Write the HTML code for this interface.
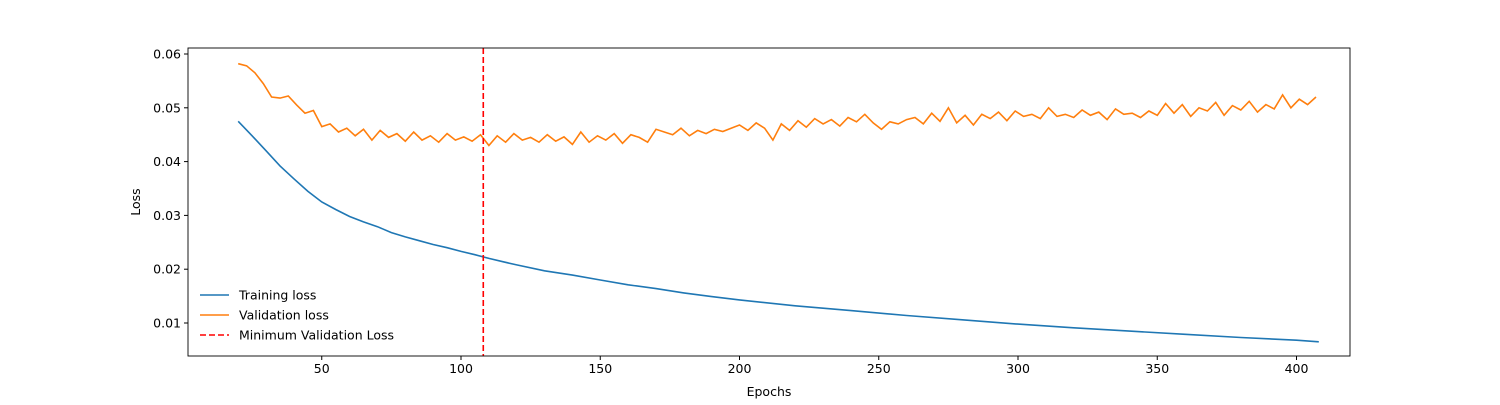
<!DOCTYPE html>
<html><head><meta charset="utf-8"><style>
body{margin:0;background:#fff;}
svg text{font-family:"DejaVu Sans","Liberation Sans",sans-serif;font-size:12.5px;fill:#000;}
</style></head><body>
<svg id="chart" width="1500" height="400" xmlns="http://www.w3.org/2000/svg">
<g id="plot"></g>
</svg>
<script>
const trainEpochs=[20,25,30,35,40,45,50,55,60,65,70,75,80,85,90,95,100,105,110,115,120,130,140,150,160,170,180,190,200,220,240,260,280,300,320,340,360,380,400,408];
const trainLoss=[0.0475,0.0448,0.0420,0.0392,0.0368,0.0345,0.0325,0.0311,0.0298,0.0288,0.0279,0.0268,0.0260,0.0253,0.0246,0.0240,0.0233,0.0227,0.0220,0.0214,0.0208,0.0197,0.0189,0.0180,0.0171,0.0164,0.0156,0.0149,0.0143,0.0132,0.0123,0.0114,0.0106,0.0098,0.0091,0.0085,0.0079,0.0073,0.0068,0.0065];
const valStart=20, valStep=3;
const valLoss=[0.0582,0.0578,0.0565,0.0545,0.0520,0.0518,0.0522,0.0505,0.0490,0.0495,
0.0465,0.0470,0.0455,0.0462,0.0448,0.0460,0.0440,0.0458,0.0445,0.0452,
0.0438,0.0455,0.0440,0.0448,0.0436,0.0452,0.0440,0.0446,0.0438,0.0450,
0.0430,0.0448,0.0436,0.0452,0.0440,0.0445,0.0436,0.0450,0.0438,0.0446,
0.0432,0.0455,0.0436,0.0448,0.0440,0.0452,0.0434,0.0450,0.0445,0.0436,
0.0460,0.0455,0.0450,0.0462,0.0448,0.0458,0.0452,0.0460,0.0456,0.0462,
0.0468,0.0458,0.0472,0.0462,0.0440,0.0470,0.0458,0.0476,0.0464,0.0480,
0.0470,0.0478,0.0466,0.0482,0.0474,0.0488,0.0472,0.0460,0.0474,0.0470,
0.0478,0.0482,0.0470,0.0490,0.0475,0.0500,0.0472,0.0486,0.0468,0.0488,
0.0480,0.0492,0.0476,0.0494,0.0484,0.0488,0.0480,0.0500,0.0484,0.0488,
0.0482,0.0496,0.0486,0.0492,0.0478,0.0498,0.0488,0.0490,0.0482,0.0494,
0.0486,0.0508,0.0490,0.0506,0.0484,0.0500,0.0494,0.0510,0.0486,0.0504,
0.0496,0.0512,0.0492,0.0506,0.0498,0.0524,0.0500,0.0516,0.0506,0.0520];
const minEpoch=108;
const xTicks=[50,100,150,200,250,300,350,400];
const yTicks=[0.01,0.02,0.03,0.04,0.05,0.06];

const L=188,R=1350,T=48,B=356;
const x=v=>182.5+v*2.785;
const y=v=>376.8-v*5380;
const NS="http://www.w3.org/2000/svg";
const g=document.getElementById('plot');
function mk(tag,attrs,parent){const e=document.createElementNS(NS,tag);for(const k in attrs)e.setAttribute(k,attrs[k]);(parent||g).appendChild(e);return e;}

const tp=trainEpochs.map((e,i)=>x(e).toFixed(1)+','+y(trainLoss[i]).toFixed(1)).join(' ');
const tl=mk('polyline',{points:tp,fill:'none',stroke:'#1f77b4','stroke-width':1.6});


const vp=valLoss.map((v,i)=>x(valStart+i*valStep).toFixed(1)+','+y(v).toFixed(1)).join(' ');
const vl=mk('polyline',{points:vp,fill:'none',stroke:'#ff7f0e','stroke-width':1.6});


const ml=mk('line',{x1:x(minEpoch),x2:x(minEpoch),y1:T,y2:B,stroke:'#ff0000','stroke-width':1.6,'stroke-dasharray':'6,3'});



const fr=mk('rect',{x:L,y:T,width:R-L,height:B-T,fill:'none',stroke:'#000','stroke-width':0.9});



xTicks.forEach(v=>{
  mk('line',{x1:x(v),x2:x(v),y1:B,y2:B+4,stroke:'#000'});
  const t=mk('text',{x:x(v),y:B+17,'text-anchor':'middle'});t.textContent=v;
  
  
});
yTicks.forEach(v=>{
  mk('line',{x1:L-4,x2:L,y1:y(v),y2:y(v),stroke:'#000'});
  const t=mk('text',{x:L-7,y:y(v)+4.5,'text-anchor':'end'});t.textContent=v.toFixed(2);
  
  
});
const xt=mk('text',{x:(L+R)/2,y:396,'text-anchor':'middle'});xt.textContent='Epochs';


const yt=mk('text',{x:140,y:(T+B)/2,'text-anchor':'middle',transform:`rotate(-90 140 ${(T+B)/2})`});yt.textContent='Loss';



const leg=[['Training loss','#1f77b4',''],['Validation loss','#ff7f0e',''],['Minimum Validation Loss','#ff0000','6,3']];
leg.forEach((d,i)=>{
  const yy=295+i*20;
  const ln=mk('line',{x1:200,x2:229,y1:yy,y2:yy,stroke:d[1],'stroke-width':1.6,'stroke-dasharray':d[2]});
  
  
  const t=mk('text',{x:239,y:yy+4.5});t.textContent=d[0];
  
  
});
</script>
</body></html>
